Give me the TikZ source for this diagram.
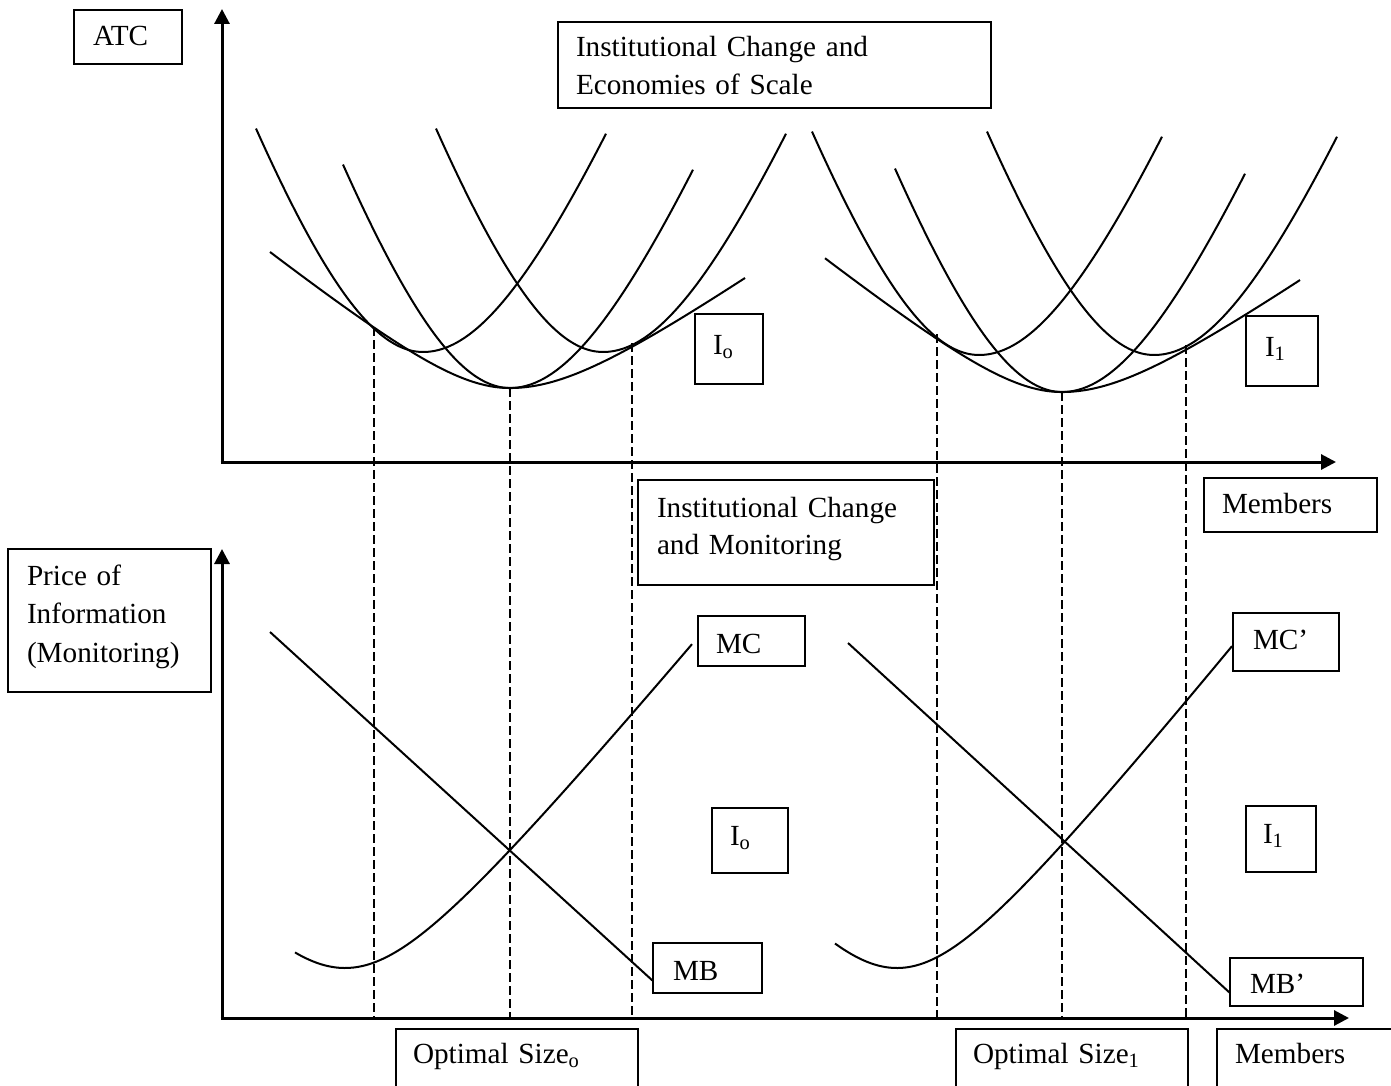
\documentclass[tikz,border=0pt]{standalone}
\usepackage{fontspec}
\setmainfont{Liberation Serif}
\usetikzlibrary{arrows.meta}
\begin{document}
\begin{tikzpicture}[x=0.5pt,y=-0.5pt,
  curve/.style={line width=1pt},
  axis/.style={line width=1.5pt,-{Triangle[length=7.5pt,width=7.5pt]}},
  guide/.style={line width=0.8pt,dash pattern=on 4.5pt off 2pt},
  lbl/.style={draw,line width=1pt,anchor=north west,outer sep=0pt,inner ysep=0pt,align=left,
    font=\fontsize{14.6}{18.75}\selectfont},
]
\useasboundingbox (0,0) rectangle (1391,1086);
\clip (0,0) rectangle (1391,1086);

% ---------- axes ----------
\coordinate (o1) at (222,462);
\coordinate (y1) at (222,9);
\coordinate (x1) at (1336,462);
\coordinate (o2) at (222,1018);
\coordinate (y2) at (222,549);
\coordinate (x2) at (1349,1018);
\draw[axis] ([yshift=-0.75pt]o1) -- (y1);
\draw[axis] ([xshift=-0.75pt]o1) -- (x1);
\draw[axis] ([yshift=-0.75pt]o2) -- (y2);
\draw[axis] ([xshift=-0.75pt]o2) -- (x2);

% ---------- upper panel: left group ----------
\draw[curve] plot[domain=270:745,samples=90,smooth]
  (\x,{388-100*(sqrt(0.458+((\x<510)?0.641:0.489)*((\x-510)/100)^2)-0.677)});
\draw[curve] plot[domain=256:606,samples=80,smooth]
  (\x,{352-((\x<423)?300:252)*(sqrt(2.25+((\x-423)/100)^2)-1.5)});
\draw[curve] plot[domain=343:693,samples=80,smooth]
  (\x,{388-((\x<510)?300:252)*(sqrt(2.25+((\x-510)/100)^2)-1.5)});
\draw[curve] plot[domain=436:786,samples=80,smooth]
  (\x,{352-((\x<603)?300:252)*(sqrt(2.25+((\x-603)/100)^2)-1.5)});

% ---------- upper panel: right group ----------
\draw[curve] plot[domain=825:1300,samples=90,smooth]
  (\x,{392-100*(sqrt(0.458+((\x<1062)?0.641:0.489)*((\x-1062)/100)^2)-0.677)});
\draw[curve] plot[domain=812:1162,samples=80,smooth]
  (\x,{355-((\x<979)?300:252)*(sqrt(2.25+((\x-979)/100)^2)-1.5)});
\draw[curve] plot[domain=895:1245,samples=80,smooth]
  (\x,{392-((\x<1062)?300:252)*(sqrt(2.25+((\x-1062)/100)^2)-1.5)});
\draw[curve] plot[domain=987:1337,samples=80,smooth]
  (\x,{355-((\x<1154)?300:252)*(sqrt(2.25+((\x-1154)/100)^2)-1.5)});

% ---------- dashed guides ----------
\coordinate (ta) at (374,327);  \coordinate (ba) at (374,1018);
\coordinate (tb) at (510,388);  \coordinate (bb) at (510,1018);
\coordinate (tc) at (632,343);  \coordinate (bc) at (632,1018);
\coordinate (td) at (937,334);  \coordinate (bd) at (937,1018);
\coordinate (te) at (1062,392); \coordinate (be) at (1062,1018);
\coordinate (tf) at (1186,345); \coordinate (bf) at (1186,1018);
\foreach \p in {a,b,c,d,e,f} \draw[guide] (t\p) -- (b\p);

% ---------- lower panel curves ----------
\coordinate (mbs) at (270,632);   \coordinate (mbe) at (653,981);
\coordinate (mbs2) at (848,643);  \coordinate (mbe2) at (1230,993);
\draw[curve] (mbs) -- (mbe);
\draw[curve] (mbs2) -- (mbe2);
\draw[curve] plot[domain=295:692,samples=90,smooth]
  (\x,{968-100*(sqrt(1.1946+1.459*((\x-345)/100)^2)-1.093)});
\draw[curve] plot[domain=835:1232,samples=90,smooth]
  (\x,{968-100*(sqrt(1.1946+1.55*((\x-897)/100)^2)-1.093)});

% ---------- labels ----------
\node[lbl,text width=35pt,inner xsep=9.5pt,text height=18pt,text depth=9pt] (atc) at (74,10) {ATC};
\node[lbl,text width=198.5pt,inner xsep=9pt,text height=17.5pt,text depth=25.5pt] (econ) at (558,22)
  {Institutional Change and\\Economies of Scale};
\node[lbl,text width=16pt,inner xsep=9pt,text height=20pt,text depth=15pt] (io1) at (695,314) {I\textsubscript{o}};
\node[lbl,text width=17pt,inner xsep=9.5pt,text height=20pt,text depth=15pt] (ia1) at (1246,316) {I\textsubscript{1}};
\node[lbl,text width=68.5pt,inner xsep=9pt,text height=17.5pt,text depth=9.5pt] (mem1) at (1204,478) {Members};
\node[lbl,text width=129pt,inner xsep=9.5pt,text height=18.5pt,text depth=34pt] (mon) at (638,480)
  {Institutional Change\\and Monitoring};
\node[lbl,text width=82.5pt,inner xsep=9.5pt,text height=18pt,text depth=53.5pt,
  font=\fontsize{14.6}{19.25}\selectfont] (price) at (8,549)
  {Price of\\Information\\(Monitoring)};
\node[lbl,text width=35.5pt,inner xsep=9pt,text height=18.5pt,text depth=6.5pt] (mc) at (698,616) {MC};
\node[lbl,text width=33pt,inner xsep=10pt,text height=18pt,text depth=11pt] (mc2) at (1233,613) {MC’};
\node[lbl,text width=20pt,inner xsep=9pt,text height=18.5pt,text depth=14pt] (io2) at (712,808) {I\textsubscript{o}};
\node[lbl,text width=18pt,inner xsep=8.5pt,text height=18.5pt,text depth=14.5pt] (ia2) at (1246,806) {I\textsubscript{1}};
\node[lbl,text width=34.5pt,inner xsep=10pt,text height=18.5pt,text depth=6.5pt] (mb) at (653,943) {MB};
\node[lbl,text width=46.5pt,inner xsep=10pt,text height=17.5pt,text depth=6.5pt] (mb2) at (1230,958) {MB’};
\node[lbl,text width=104pt,inner xsep=8.5pt,text height=17pt,text depth=20pt] (opt0) at (396,1029) {Optimal Size\textsubscript{o}};
\node[lbl,text width=99pt,inner xsep=8.5pt,text height=17pt,text depth=20pt] (opt1) at (956,1029) {Optimal Size\textsubscript{1}};
\node[lbl,text width=73.5pt,inner xsep=9pt,text height=17pt,text depth=20pt] (mem2) at (1217,1029) {Members};
\end{tikzpicture}
\end{document}
